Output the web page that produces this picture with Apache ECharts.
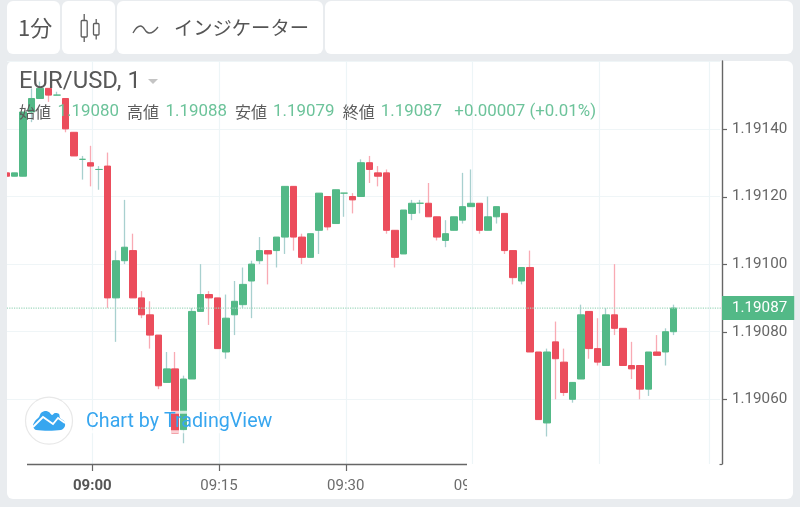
<!DOCTYPE html>
<html><head><meta charset="utf-8">
<style>html,body{margin:0;padding:0;background:#e9ecef}#c{width:800px;height:507px}</style>
<script src="https://cdn.jsdelivr.net/npm/echarts@6/dist/echarts.min.js"></script>
</head><body><div id="c"></div>
<script>
// prices are written in 0.00001 units above 1.19000
const basePrice = 1.19, unit = 0.00001;
const opens  = [127,126,126,145,149,152,150,149,139,131,130,128,129,90,101,104,90,85,79,65,69,51,66,86,91,90,74,85,88,95,101,104,104,108,123,108,102,110,120,112,121,120,120,130,127,127,110,103,115,118,118,114,107,110,113,117,118,110,114,115,104,95,99,74,53,77,71,60,66,86,75,70,85,81,70,70,63,74,74,80];
const closes = [126,127,145,149,152,150,150,140,132,131,129,128,90,101,105,90,85,79,64,69,50,66,86,91,90,75,84,89,94,100,104,103,108,123,108,102,109,121,111,122,121,119,130,128,126,110,102,116,118,118,114,108,109,114,117,118,110,114,117,104,96,99,74,54,74,72,62,65,85,75,71,85,81,70,69,63,74,73,80,87];
const lows   = [126,126,126,142,149,148,150,139,132,125,123,122,87,77,100,90,84,75,63,65,50,47,66,86,82,75,72,79,87,84,100,94,99,103,104,100,102,103,110,112,114,115,120,124,123,109,99,103,113,115,114,107,105,110,112,117,109,110,112,103,94,94,74,54,49,60,61,59,66,72,70,70,79,70,66,60,61,73,70,79];
const highs  = [127,127,145,152,154,152,151,149,139,132,135,129,133,104,119,109,92,89,79,74,74,67,87,100,92,90,91,95,99,101,108,104,108,123,123,109,109,121,120,122,121,121,131,132,129,128,110,116,119,119,124,114,113,114,127,128,118,120,117,115,104,99,104,74,75,83,75,65,88,86,84,87,100,81,77,70,74,79,81,88];
const lastPrice = 87;
const timeLabels = (function(){const a=[];for(let i=0;i<85;i++){const m=530+i;a.push(String(Math.floor(m/60)).padStart(2,'0')+':'+String(m%60).padStart(2,'0'));}return a;})();
const shownTimes = ['09:00','09:15','09:30','09:45'];
const gridTimes = ['09:00','09:15','09:30','09:45','10:00','10:13'];
const priceTicks = ['1.19060','1.19080','1.19100','1.19120','1.19140'];
const legendLabels = [['始値',19],['高値',127],['安値',235],['終値',342.7]];
const legendValues = [['1.19080',57.5],['1.19088',165.5],['1.19079',273],['1.19087',380.7],['+0.00007 (+0.01%)',454.3]];

const price = v => +(basePrice + v*unit).toFixed(5);
const UP='#53b987', DOWN='#eb4d5c', UPW='#a8d0cf', DOWNW='#f9aab3';
const FONT='Roboto,"Noto Sans CJK JP",sans-serif', CJK='"Noto Sans CJK JP",Roboto,sans-serif';
const yMin=1.1904086, yMax=1.1916009;
const wickData = opens.map((o,i)=>[price(o),price(closes[i]),price(lows[i]),price(highs[i])]);
const bodyData = opens.map((o,i)=>[price(o),price(closes[i]),price(Math.min(o,closes[i])),price(Math.max(o,closes[i]))]);

const txt=(text,x,y,size,fill,font,extra)=>({type:'text',z:50,silent:true,style:Object.assign({text,x,y,fontSize:size,fill,fontFamily:font||FONT,verticalAlign:'middle'},extra||{})});
const rect=(x,y,w,h,fill,z,r)=>({type:'rect',z,silent:true,shape:{x,y,width:w,height:h,r:r||0},style:{fill}});
const line=(x1,y1,x2,y2,c,w,z)=>({type:'line',z:z||60,silent:true,shape:{x1,y1,x2,y2},style:{stroke:c,lineWidth:w||1}});
const ICON='#5d5d5d';
const graphics=[
  rect(7,1,53,53,'#fff',-10,6),rect(62,1,53,53,'#fff',-10,6),rect(117,1,206,53,'#fff',-10,6),rect(325,1,468,53,'#fff',-10,6),
  rect(7,61,786,438,'#fff',-10,6),
  rect(0,55,7,452,'#e9ecef',30),
  rect(467,465,254,33,'#fff',40),
  line(27,464.5,467,464.5,'#666',1.4,45),
  line(719.5,464.5,722,464.5,'#666',1.2,45),
  txt('1分',18,28,22,'#555',CJK),
  {type:'rect',z:50,silent:true,shape:{x:81.2,y:20.5,width:6,height:16.5,r:1},style:{fill:'none',stroke:ICON,lineWidth:1.3}},
  {type:'rect',z:50,silent:true,shape:{x:93.5,y:23.5,width:5.5,height:11.5,r:1},style:{fill:'none',stroke:ICON,lineWidth:1.3}},
  line(84.2,14,84.2,20.5,ICON,1.3),line(84.2,37,84.2,42,ICON,1.3),
  line(96.2,19,96.2,23.5,ICON,1.3),line(96.2,35,96.2,39.5,ICON,1.3),
  {type:'polyline',z:50,silent:true,shape:{smooth:0.5,points:[[133,33],[140.5,26],[149,33],[158,27]]},style:{fill:'none',stroke:ICON,lineWidth:1.3}},
  txt('インジケーター',174,28,19.3,'#555',CJK),
  txt('EUR/USD, 1',19,82,23.9,'#585858'),
  {type:'polygon',z:50,silent:true,shape:{points:[[148,79],[158,79],[153,84]]},style:{fill:'#c4c4c4'}},
  {type:'circle',z:45,silent:true,shape:{cx:49,cy:420.7,r:23.5},style:{fill:'#fff',stroke:'#e8e8e8',lineWidth:1.2}},
  {type:'polygon',z:46,silent:true,shape:{smooth:0.3,points:[[36,430],[33,426],[35,421],[39,417],[41,413],[45,411],[49,412],[52,415],[55,413],[59,414],[60,418],[64,421],[65,426],[61,430]]},style:{fill:'#37a6ef'}},
  {type:'polyline',z:47,silent:true,shape:{points:[[33,427],[43,417],[53,424],[58,418],[65,423]]},style:{fill:'none',stroke:'#fff',lineWidth:1.8}},
  txt('Chart by TradingView',86,422,19.7,'#37a6ef',FONT,{textBorderColor:'rgba(255,255,255,0.75)',textBorderWidth:3})
];
legendLabels.forEach(l=>graphics.push(txt(l[0],l[1],111.5,16,'#5c5c5c',CJK)));
legendValues.forEach(l=>graphics.push(txt(l[0],l[1],111.5,16.9,'#6cc39a')));

const chart=echarts.init(document.getElementById('c'),null,{renderer:'canvas'});
chart.setOption({
  animation:false,
  backgroundColor:'#e9ecef',
  graphic:{elements:graphics},
  grid:[
    {left:2,top:61,width:718.2,height:403},
    {left:7.82,top:61,width:709.7,height:403},
    {left:2,top:61,width:720,height:403}
  ],
  xAxis:[
    {type:'category',gridIndex:0,data:timeLabels,show:false,boundaryGap:true},
    {type:'category',gridIndex:1,data:timeLabels,boundaryGap:false,
      axisLine:{show:false},
      axisTick:{show:false},
      splitLine:{show:true,interval:(i,v)=>gridTimes.includes(v),lineStyle:{color:'#edf5f7',width:1.2}},
      axisLabel:{show:true,interval:(i,v)=>shownTimes.includes(v),margin:15,fontSize:15,fontFamily:FONT,color:'#6c6c6c',
        formatter:v=>v==='09:00'?'{b|'+v+'}':v,
        rich:{b:{fontWeight:'bold',fontSize:15,fontFamily:FONT,color:'#555'}}}
    },
    {type:'value',gridIndex:2,show:false,min:0,max:1,splitLine:{show:false}}
  ],
  yAxis:[
    {type:'value',gridIndex:0,position:'right',offset:1.8,min:yMin,max:yMax,scale:true,splitNumber:6,
      axisLine:{show:true,lineStyle:{color:'#666',width:1.4}},
      axisTick:{show:false},
      axisLabel:{show:true,margin:10,padding:[7,0,0,0],fontSize:15.2,fontFamily:FONT,color:'#666',
        formatter:v=>priceTicks.includes((+v).toFixed(5))?(+v).toFixed(5):''},
      splitLine:{show:true,showMinLine:false,showMaxLine:false,lineStyle:{color:'#eff5f7',width:1.2}}},
    {type:'value',gridIndex:1,show:false,min:0,max:1,splitLine:{show:false}},
    {type:'value',gridIndex:2,show:false,min:yMin,max:yMax,scale:true,splitLine:{show:false}}
  ],
  series:[
    {type:'candlestick',name:'wick',xAxisIndex:0,yAxisIndex:0,data:wickData,barWidth:1,silent:true,
      itemStyle:{color:UPW,color0:DOWNW,borderColor:UPW,borderColor0:DOWNW,borderColorDoji:UPW,borderWidth:1.3}},
    {type:'candlestick',name:'EUR/USD',xAxisIndex:0,yAxisIndex:0,data:bodyData,barWidth:7,silent:true,
      itemStyle:{color:UP,color0:DOWN,borderColor:UP,borderColor0:DOWN,borderColorDoji:UP,borderWidth:1}},
    {type:'line',name:'last',xAxisIndex:2,yAxisIndex:2,silent:true,z:3,clip:false,
      symbol:'circle',symbolSize:0,showSymbol:true,showAllSymbol:true,
      lineStyle:{color:'#9fd8bd',type:'dotted',width:1.2},
      data:[[0,price(lastPrice)],{value:[1,price(lastPrice)],
        label:{show:true,position:'right',distance:0,formatter:()=>price(lastPrice).toFixed(5),backgroundColor:UP,color:'#fff',fontSize:15.2,fontFamily:FONT,lineHeight:16,padding:[4,7,4,10]}}]}
  ]
});
// tick marks placed through the axes' own scales
const tickMarks=[];
priceTicks.forEach(p=>{const y=Math.round(chart.convertToPixel({yAxisIndex:0},+p))+0.5;tickMarks.push(line(722,y,727,y,'#666',1.2,45));});
shownTimes.slice(0,3).forEach(t=>{const x=Math.round(chart.convertToPixel({xAxisIndex:1},t))+0.5;tickMarks.push(line(x,465,x,471,'#666',1.2,45));});
chart.setOption({graphic:{elements:graphics.concat(tickMarks)}});
</script></body></html>
